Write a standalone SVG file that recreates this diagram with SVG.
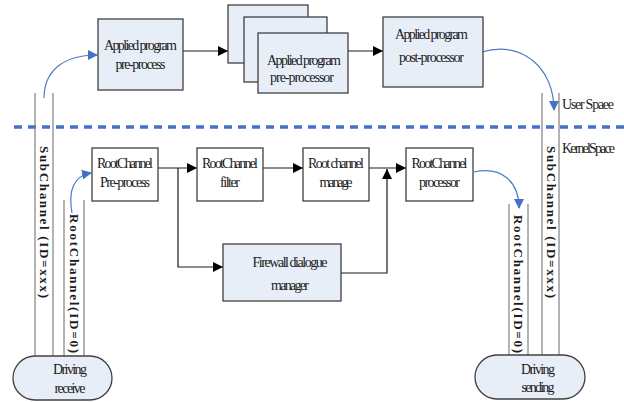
<svg xmlns="http://www.w3.org/2000/svg" width="624" height="402" viewBox="0 0 624 402">
<defs>
<style>
.t{font-family:"Liberation Serif","Times New Roman",serif;font-size:14px;fill:#1a1a1a;text-anchor:middle}
.tl{font-family:"Liberation Serif","Times New Roman",serif;font-size:14px;fill:#1a1a1a}
.v{font-family:"Liberation Serif","Times New Roman",serif;font-size:13px;font-weight:bold;fill:#1a1a1a;dominant-baseline:central}
.bb{fill:#e8eef8;stroke:#404040;stroke-width:1.3}
.bw{fill:#ffffff;stroke:#404040;stroke-width:1.3}
.ch{stroke:#808080;stroke-width:1.2;fill:none}
.c{stroke:#1a1a1a;stroke-width:1.2;fill:none}
.cb{stroke:#4f7cc8;stroke-width:1.2;fill:none}
</style>
<marker id="ah" markerUnits="userSpaceOnUse" markerWidth="10" markerHeight="10" viewBox="0 0 10 10" refX="10" refY="5" orient="auto"><path d="M0,0 L10,5 L0,10 z" fill="#000"/></marker>
<marker id="bh" markerUnits="userSpaceOnUse" markerWidth="10" markerHeight="10" viewBox="0 0 10 10" refX="9" refY="5" orient="auto"><path d="M0,0 L10,5 L0,10 z" fill="#4472c4"/></marker>
</defs>
<rect width="624" height="402" fill="#ffffff"/>

<!-- separator -->
<line x1="14" y1="127" x2="624" y2="127" stroke="#4472c4" stroke-width="3.5" stroke-dasharray="8 6"/>

<g id="channels">
<line class="ch" x1="35" y1="93" x2="35" y2="356"/>
<line class="ch" x1="53" y1="93" x2="53" y2="356"/>
<line class="ch" x1="64" y1="200" x2="64" y2="356"/>
<line class="ch" x1="84" y1="200" x2="84" y2="356"/>
<line class="ch" x1="542" y1="93" x2="542" y2="356"/>
<line class="ch" x1="559" y1="93" x2="559" y2="356"/>
<line class="ch" x1="509" y1="204" x2="509" y2="356"/>
<line class="ch" x1="528" y1="204" x2="528" y2="356"/>
<text class="v" transform="translate(44,146) rotate(90)" textLength="152">SubChannel (ID=xxx)</text>
<text class="v" transform="translate(74,214) rotate(90)" textLength="139">RootChannel(ID=0)</text>
<text class="v" transform="translate(551,146) rotate(90)" textLength="152">SubChannel (ID=xxx)</text>
<text class="v" transform="translate(518,215) rotate(90)" textLength="138">RootChannel(ID=0)</text>
</g>

<g id="connectors">
<line class="c" x1="183" y1="51" x2="228" y2="51" marker-end="url(#ah)"/>
<line class="c" x1="348" y1="51" x2="383" y2="51" marker-end="url(#ah)"/>
<line class="c" x1="158" y1="168" x2="197" y2="168" marker-end="url(#ah)"/>
<line class="c" x1="263" y1="168" x2="303" y2="168" marker-end="url(#ah)"/>
<line class="c" x1="369" y1="168" x2="406" y2="168" marker-end="url(#ah)"/>
<polyline class="c" points="178,168 178,267 223,267" marker-end="url(#ah)"/>
<polyline class="c" points="341,273 387,273 387,169" marker-end="url(#ah)"/>
<path class="cb" d="M44,98 C44,72 62,55 97,55" marker-end="url(#bh)"/>
<path class="cb" stroke-width="2.5" d="M72,213 C68,190 74,176 91,173" marker-end="url(#bh)"/>
<path class="cb" d="M482,52 C522,40 554,68 554,110" marker-end="url(#bh)"/>
<path class="cb" d="M474,172 C502,166 519,182 519,208" marker-end="url(#bh)"/>
</g>

<g id="app-pre">
<rect class="bb" x="98" y="19" width="85" height="71"/>
<text class="t" x="140.5" y="50" textLength="73">Applied program</text>
<text class="t" x="140.5" y="69" textLength="50">pre-process</text>
</g>

<g id="app-preprocessor">
<rect class="bb" x="228" y="5" width="80" height="58"/>
<rect class="bb" x="244" y="17" width="83" height="65"/>
<rect class="bb" x="258" y="33" width="90" height="60"/>
<text class="t" x="304" y="65" textLength="74">Applied program</text>
<text class="t" x="302" y="82" textLength="64">pre-processor</text>
</g>

<g id="app-post">
<rect class="bb" x="383" y="17" width="100" height="70"/>
<text class="t" x="431.5" y="39" textLength="73">Applied program</text>
<text class="t" x="431.5" y="62" textLength="65">post-processor</text>
</g>

<g id="rc-pre">
<rect class="bw" x="92" y="148" width="66" height="53"/>
<text class="t" x="125" y="168" textLength="56">RootChannel</text>
<text class="t" x="125" y="187" textLength="50">Pre-process</text>
</g>

<g id="rc-filter">
<rect class="bw" x="197" y="148" width="66" height="53"/>
<text class="t" x="230" y="168" textLength="56">RootChannel</text>
<text class="t" x="230" y="187" textLength="20">filter</text>
</g>

<g id="rc-manage">
<rect class="bw" x="303" y="148" width="66" height="53"/>
<text class="t" x="336" y="168" textLength="56">Root channel</text>
<text class="t" x="336" y="187" textLength="33">manage</text>
</g>

<g id="rc-processor">
<rect class="bw" x="406" y="148" width="67" height="53"/>
<text class="t" x="439.5" y="168" textLength="56">RootChannel</text>
<text class="t" x="439.5" y="187" textLength="41">processor</text>
</g>

<g id="firewall">
<rect class="bb" x="223" y="244" width="118" height="57"/>
<text class="t" x="290" y="267" textLength="75">Firewall dialogue</text>
<text class="t" x="290" y="290" textLength="38">manager</text>
</g>

<g id="drv-receive">
<rect class="bb" x="13" y="356" width="99" height="44" rx="22" ry="22"/>
<text class="t" x="70" y="374" textLength="34">Driving</text>
<text class="t" x="70" y="393" textLength="31">receive</text>
</g>

<g id="drv-sending">
<rect class="bb" x="475" y="355" width="110" height="44" rx="22" ry="22"/>
<text class="t" x="538" y="374" textLength="34">Driving</text>
<text class="t" x="538" y="392" textLength="33">sending</text>
</g>

<g id="labels">
<text class="tl" x="562" y="109" textLength="52">User Spaee</text>
<text class="tl" x="562" y="153" textLength="53">KernelSpace</text>
</g>
</svg>
